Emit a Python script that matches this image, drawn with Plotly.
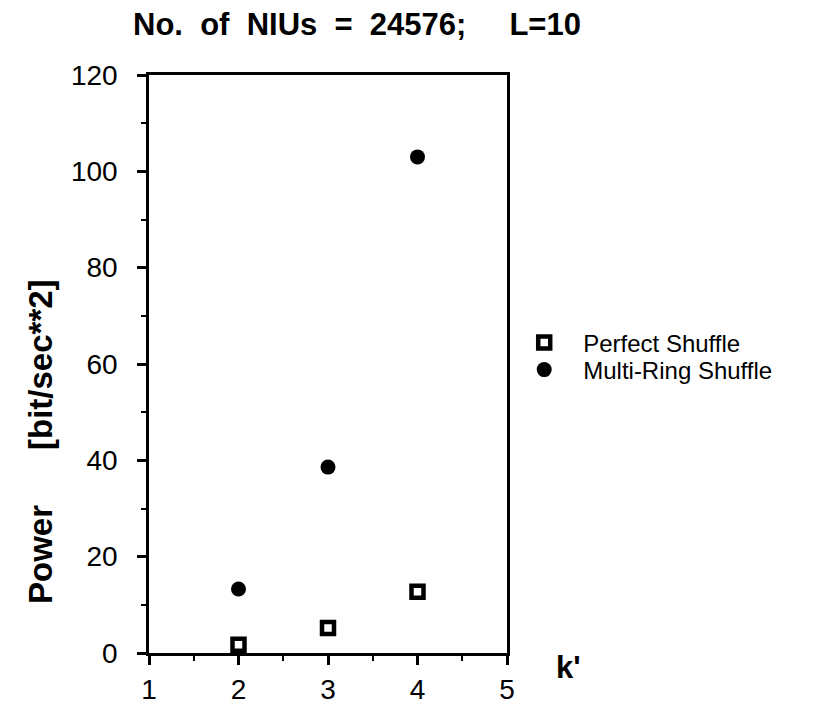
import plotly.graph_objects as go

k_values = [2, 3, 4]
perfect_shuffle = [1.7, 5.2, 12.7]
multi_ring_shuffle = [13.3, 38.6, 103.0]

x_ticks = [1, 2, 3, 4, 5]
y_ticks = [0, 20, 40, 60, 80, 100, 120]

FONT = "Liberation Sans, Arial, Helvetica, sans-serif"
NB = "\u00a0"

fig = go.Figure()
fig.add_trace(go.Scatter(
    x=k_values, y=perfect_shuffle, mode="markers", name="Perfect Shuffle",
    marker=dict(symbol="square", size=12, color="white",
                line=dict(color="black", width=4.5)),
    legend="legend",
))
fig.add_trace(go.Scatter(
    x=k_values, y=multi_ring_shuffle, mode="markers", name="Multi-Ring Shuffle",
    marker=dict(symbol="circle", size=15, color="black",
                line=dict(color="black", width=0)),
    legend="legend2",
))

axis_common = dict(
    showline=True, linecolor="black", linewidth=2.5, mirror=True,
    ticks="outside", tickcolor="black", tickwidth=2.5, ticklen=9,
    showgrid=False, zeroline=False, automargin=False,
    tickfont=dict(family=FONT, size=28, color="black"),
)

fig.update_xaxes(range=[1, 5], tickvals=x_ticks, ticklabelstandoff=1,
                 minor=dict(ticks="outside", ticklen=5, tickwidth=2, dtick=0.5,
                            tickcolor="black", showgrid=False),
                 **axis_common)
fig.update_yaxes(range=[0, 120], tickvals=y_ticks, ticklabelstandoff=14,
                 minor=dict(ticks="outside", ticklen=5, tickwidth=2, dtick=10,
                            tickcolor="black", showgrid=False),
                 **axis_common)

legend_common = dict(
    xanchor="left", yanchor="middle", bgcolor="rgba(0,0,0,0)",
    font=dict(family=FONT, size=24, color="black"),
    itemwidth=68, borderwidth=0,
)

fig.update_layout(
    width=827, height=707,
    margin=dict(l=149, r=320, t=75, b=54),
    paper_bgcolor="white", plot_bgcolor="white",
    showlegend=True,
    legend=dict(x=0.995, y=(653 - 343) / 578, **legend_common),
    legend2=dict(x=0.995, y=(653 - 370) / 578, **legend_common),
    title=dict(text=f"<b>No.{NB}{NB}of{NB}{NB}NIUs{NB}{NB}={NB}{NB}24576;{NB}{NB}{NB}{NB}{NB}L=10</b>",
               x=357 / 827, xref="container", xanchor="center",
               y=1 - 24 / 707, yref="container", yanchor="middle",
               font=dict(family=FONT, size=31, color="black")),
    annotations=[
        dict(text=f"<b>Power{NB*6}[bit/sec**2]</b>", textangle=-90,
             xref="paper", yref="paper", x=(40 - 149) / 358, y=(653 - 442) / 578,
             xanchor="center", yanchor="middle", showarrow=False,
             font=dict(family=FONT, size=33, color="black")),
        dict(text="<b>k'</b>", xref="paper", yref="paper",
             x=(568 - 149) / 358, y=(653 - 667) / 578,
             xanchor="center", yanchor="middle", showarrow=False,
             font=dict(family=FONT, size=31, color="black")),
    ],
)

fig.write_html("out.html")
